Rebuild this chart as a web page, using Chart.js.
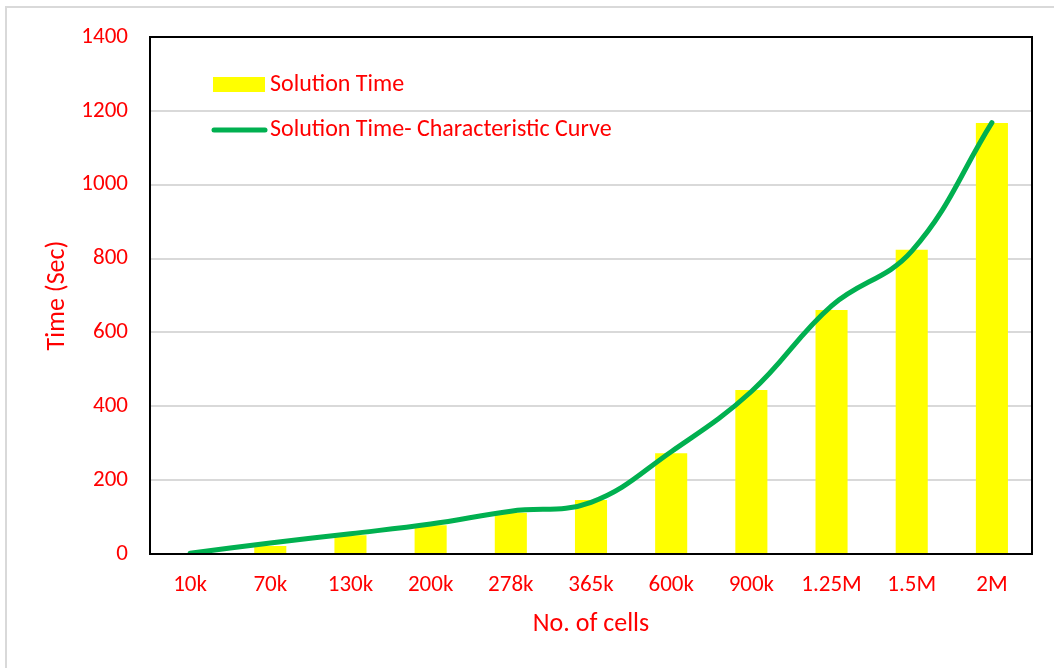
<!DOCTYPE html>
<html>
<head>
<meta charset="utf-8">
<script src="https://cdn.jsdelivr.net/npm/chart.js@4.4.0/dist/chart.umd.min.js"></script>
<style>
  body { margin: 0; background: #fff; }
  #wrap { position: relative; width: 1054px; height: 668px; }
  #frame { position: absolute; left: 5px; top: 6px; width: 1060px; height: 700px;
           border-left: 2px solid #d9d9d9; border-top: 2px solid #d9d9d9; }
  canvas { position: absolute; left: 0; top: 0; }
</style>
</head>
<body>
<div id="wrap">
  <div id="frame"></div>
  <canvas id="myChart" width="1054" height="668"></canvas>
</div>
<script>
const cellLabels = ['10k', '70k', '130k', '200k', '278k', '365k', '600k', '900k', '1.25M', '1.5M', '2M'];
const solutionTime = [3, 22, 51, 78, 112, 146, 273, 444, 661, 824, 1167];   // 막대
const curveTime = [2, 30, 55, 81, 116, 140, 277, 440, 672, 820, 1168];      // 곡선
const yTicks = [0, 200, 400, 600, 800, 1000, 1200, 1400];

const FONT = "Carlito, Calibri, Lato, sans-serif";
const RED = '#ff0000';

// 플롯 영역 테두리 + 범례
const frameAndLegend = {
  id: 'frameAndLegend',
  afterDraw: (chart) => {
    const { ctx, chartArea: a, data } = chart;
    ctx.save();
    ctx.strokeStyle = '#000';
    ctx.lineWidth = 2;
    ctx.strokeRect(a.left, a.top, a.right - a.left, a.bottom - a.top);

    ctx.font = '24px ' + FONT;
    ctx.textBaseline = 'middle';
    ctx.textAlign = 'left';
    ctx.fillStyle = data.datasets[1].backgroundColor;
    ctx.fillRect(213, 77, 52, 15);
    ctx.fillStyle = RED;
    ctx.fillText(data.datasets[1].label, 270, 85);

    ctx.strokeStyle = data.datasets[0].borderColor;
    ctx.lineWidth = 5;
    ctx.lineCap = 'round';
    ctx.beginPath();
    ctx.moveTo(214, 130);
    ctx.lineTo(265, 130);
    ctx.stroke();
    ctx.fillStyle = RED;
    ctx.fillText(data.datasets[0].label, 270, 130);
    ctx.restore();
  }
};

let myChart = new Chart(document.getElementById('myChart'), {
  type: 'bar',
  data: {
    labels: cellLabels,
    datasets: [
      {
        type: 'line',
        label: 'Solution Time- Characteristic Curve',
        data: curveTime,
        borderColor: '#00b050',
        borderWidth: 5,
        borderCapStyle: 'round',
        pointRadius: 0,
        tension: 0.4,
        fill: false,
        order: 0
      },
      {
        type: 'bar',
        label: 'Solution Time',
        data: solutionTime,
        backgroundColor: '#ffff00',
        categoryPercentage: 1,
        barPercentage: 0.4,
        order: 1
      }
    ]
  },
  options: {
    responsive: false,
    animation: false,
    layout: { padding: { left: 0, top: 37, right: 22, bottom: 0 } },
    plugins: {
      legend: { display: false },
      tooltip: { enabled: false }
    },
    scales: {
      x: {
        grid: { display: false, drawTicks: false },
        border: { display: false },
        ticks: { color: RED, padding: 17, font: { size: 23, family: FONT } },
        title: {
          display: true, text: 'No. of cells', color: RED,
          font: { size: 26, family: FONT }, padding: { top: 0, bottom: 28 }
        },
        afterFit: (scale) => { scale.height = 114; }
      },
      y: {
        min: 0, max: 1400,
        afterBuildTicks: (scale) => { scale.ticks = yTicks.map(v => ({ value: v })); },
        grid: { color: '#d9d9d9', lineWidth: 2, drawTicks: false },
        border: { display: false },
        ticks: {
          color: RED, padding: 22, font: { size: 23, family: FONT },
          callback: (v) => String(v)
        },
        title: {
          display: true, text: 'Time (Sec)', color: RED,
          font: { size: 26, family: FONT }, padding: { top: 42, bottom: 0 }
        },
        afterFit: (scale) => { scale.width = 150; }
      }
    }
  },
  plugins: [frameAndLegend]
});
</script>
</body>
</html>
